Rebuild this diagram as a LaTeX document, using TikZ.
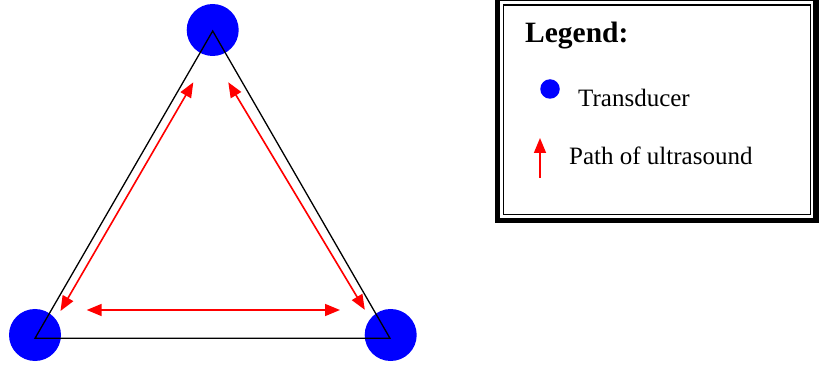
\documentclass[tikz,border=0pt]{standalone}
\usepackage{fontspec}
\setmainfont{Liberation Serif}
\usetikzlibrary{arrows.meta}
\definecolor{tblue}{RGB}{0,0,255}
\definecolor{tred}{RGB}{255,0,0}
\begin{document}
\begin{tikzpicture}[x=1pt,y=-1pt,
  transducer/.style={circle,fill=tblue,draw=none,inner sep=0pt,minimum size=52pt},
  legdot/.style={circle,fill=tblue,draw=none,inner sep=0pt,minimum size=19.5pt},
  edge/.style={draw=black,line width=1.3pt,line join=miter},
  path/.style={draw=tred,line width=1.6pt,
    arrows={-Triangle[length=15pt,width=12pt]}},
  dpath/.style={draw=tred,line width=1.6pt,
    arrows={Triangle[length=15pt,width=12pt]-Triangle[length=15pt,width=12pt]}},
  legtext/.style={inner sep=0pt,anchor=base west,font=\fontsize{25}{28}\selectfont},
  legtitle/.style={inner sep=0pt,anchor=base west,font=\fontsize{29.5}{32}\selectfont\bfseries}]
\useasboundingbox (0,0) rectangle (820,366);
\fill[white] (0,0) rectangle (820,366);
% transducers
\node[transducer] (tT) at (212.7,30) {};
\node[transducer] (tL) at (35,335) {};
\node[transducer] (tR) at (390.7,335) {};
% triangle
\coordinate (vT) at (212.7,31);
\coordinate (vL) at (35,338.3);
\coordinate (vR) at (390,338.3);
\draw[edge] (vT) -- (vL) -- (vR) -- cycle;
% ultrasound paths
\coordinate (aL1) at (60.5,311);
\coordinate (aL2) at (193.3,82.3);
\coordinate (aR1) at (228.3,82.3);
\coordinate (aR2) at (364.8,309.8);
\coordinate (aH1) at (86.7,310);
\coordinate (aH2) at (340,310);
\draw[dpath] (aL1) -- (aL2);
\draw[dpath] (aR1) -- (aR2);
\draw[dpath] (aH1) -- (aH2);
% legend frame
\fill[black] (495,-3) rectangle (818.5,223.3);
\fill[white] (500,1.2) rectangle (813.3,218.3);
\draw[black,line width=1.3pt] (503.3,5) rectangle (810.6,214.2);
\node[legtitle] (ltitle) at (525,43) {Legend:};
\node[legdot] (ldot) at (550,89) {};
\node[legtext] (ltrans) at (578,107) {Transducer};
\coordinate (la1) at (540,178);
\coordinate (la2) at (540,138);
\draw[path] (la1) -- (la2);
\node[legtext] (lpath) at (569,165) {Path of ultrasound};
\end{tikzpicture}
\end{document}
